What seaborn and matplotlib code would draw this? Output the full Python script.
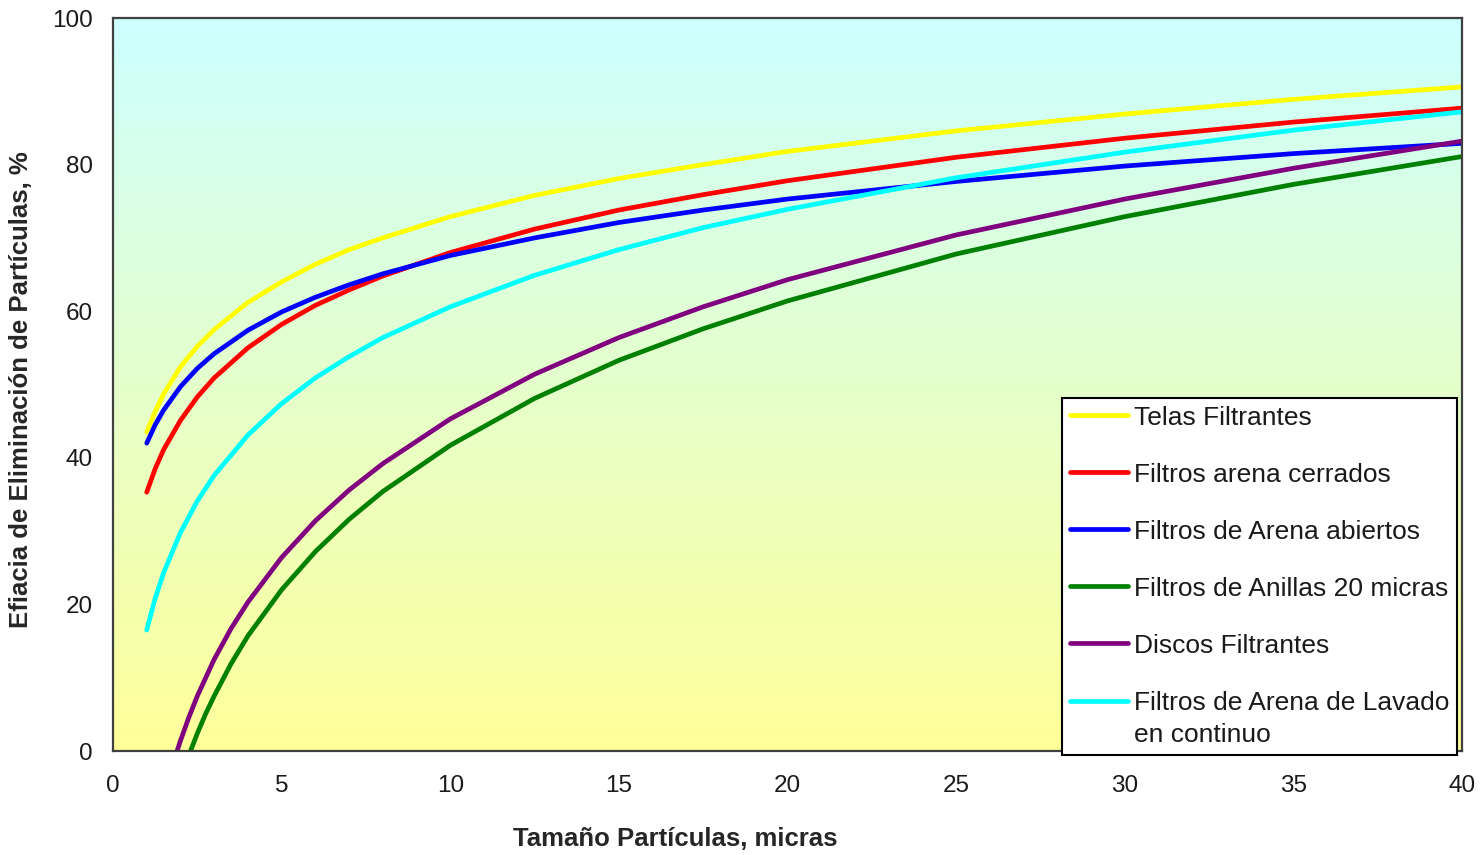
import numpy as np
import pandas as pd
import matplotlib
matplotlib.use("Agg")
import matplotlib.pyplot as plt
import seaborn as sns

# EFICACIA DE ELIMINACION DE PARTICULAS POR TIPO DE FILTRO

x_main = [1, 1.25, 1.5, 2, 2.5, 3, 4, 5, 6, 7, 8, 10, 12.5, 15, 17.5, 20, 25, 30, 35, 40]
telas = [43.5, 46.3, 48.7, 52.4, 55.2, 57.5, 61.2, 64.0, 66.4, 68.4, 70.0, 72.9, 75.8,
         78.1, 80.0, 81.8, 84.6, 86.9, 88.9, 90.6]
arena_cerrados = [35.3, 38.5, 41.1, 45.1, 48.3, 50.9, 55.0, 58.2, 60.8, 62.9, 64.8, 68.0,
                  71.2, 73.8, 75.9, 77.8, 81.0, 83.6, 85.8, 87.7]
arena_abiertos = [42.0, 44.5, 46.5, 49.7, 52.2, 54.2, 57.4, 59.9, 61.9, 63.6, 65.1, 67.6,
                  70.0, 72.1, 73.8, 75.3, 77.7, 79.8, 81.5, 82.9]
lavado_continuo = [16.5, 20.8, 24.3, 29.8, 34.1, 37.6, 43.1, 47.4, 50.9, 53.8, 56.4, 60.6,
                   64.9, 68.4, 71.4, 73.9, 78.2, 81.7, 84.7, 87.2]

x_discos = [1.9, 2, 2.25, 2.5, 3, 3.5, 4, 5, 6, 7, 8, 10, 12.5, 15, 17.5, 20, 25, 30, 35, 40]
discos = [0.0, 1.4, 4.6, 7.5, 12.5, 16.7, 20.3, 26.4, 31.4, 35.6, 39.2, 45.3, 51.4, 56.4,
          60.6, 64.3, 70.4, 75.3, 79.5, 83.2]

x_anillas = [2.3, 2.5, 2.75, 3, 3.5, 4, 5, 6, 7, 8, 10, 12.5, 15, 17.5, 20, 25, 30, 35, 40]
anillas = [0.0, 2.4, 5.1, 7.5, 11.9, 15.7, 22.0, 27.2, 31.6, 35.4, 41.7, 48.1, 53.3, 57.6,
           61.4, 67.8, 72.9, 77.3, 81.1]

series_names = ["Telas Filtrantes", "Filtros arena cerrados", "Filtros de Arena abiertos",
                "Filtros de Anillas 20 micras", "Discos Filtrantes",
                "Filtros de Arena de Lavado\nen continuo"]
series_colors = ["#FFFF00", "#FF0000", "#0000FF", "#008000", "#800080", "#00FFFF"]

x_ticks = [0, 5, 10, 15, 20, 25, 30, 35, 40]
y_ticks = [0, 20, 40, 60, 80, 100]

# DATAFRAME

series_data = [(x_main, telas), (x_main, arena_cerrados), (x_main, arena_abiertos),
               (x_anillas, anillas), (x_discos, discos), (x_main, lavado_continuo)]
frames = []
for name, (xs, ys) in zip(series_names, series_data):
    frames.append(pd.DataFrame({"x": xs, "y": ys, "serie": name}))
df = pd.concat(frames, ignore_index=True)

# ESTILO

sns.set_style("white")
plt.rcParams["font.family"] = ["Liberation Sans", "DejaVu Sans"]
plt.rcParams["text.color"] = "#1a1a1a"

fig = plt.figure(figsize=(14.82, 8.55), dpi=100)
ax = fig.add_axes([113 / 1482, 1 - 751 / 855, 1349 / 1482, 733 / 855])

# fondo degradado cian -> amarillo
top = np.array([204, 255, 255]) / 255
bottom = np.array([255, 255, 153]) / 255
t = np.linspace(0, 1, 256)[:, None]
grad = top * (1 - t) + bottom * t
ax.imshow(grad[:, None, :], extent=[0, 40, 0, 100], aspect="auto", zorder=0,
          interpolation="bilinear")

sns.lineplot(data=df, x="x", y="y", hue="serie", hue_order=series_names,
             palette=dict(zip(series_names, series_colors)), linewidth=3.4,
             errorbar=None, ax=ax, zorder=2)

ax.set_xlim(0, 40)
ax.set_ylim(0, 100)
ax.set_xticks(x_ticks)
ax.set_yticks(y_ticks)
ax.tick_params(axis="both", direction="out", length=6.5, width=1.5, color="#404040",
               labelsize=17.5, labelcolor="#1a1a1a")
ax.tick_params(axis="x", pad=11)
ax.tick_params(axis="y", pad=8)
for s in ax.spines.values():
    s.set_color("#404040")
    s.set_linewidth(1.6)
    s.set_visible(True)

ax.set_xlabel("Tamaño Partículas, micras", fontsize=18.5, fontweight="bold")
ax.set_ylabel("Efiacia de Eliminación de Partículas, %", fontsize=18.5, fontweight="bold")
ax.xaxis.set_label_coords(0.417, -0.104)
ax.yaxis.set_label_coords(-0.0593, 0.4925)

handles, labels = ax.get_legend_handles_labels()
leg = ax.legend(handles, labels, loc="lower right", bbox_to_anchor=(0.9963, -0.0055),
                borderaxespad=0, fontsize=19, frameon=True, fancybox=False,
                edgecolor="black", facecolor="white", framealpha=1,
                handlelength=2.2, handletextpad=0.2, labelspacing=1.25,
                borderpad=0.3)
leg.get_frame().set_linewidth(1.5)
leg.set_zorder(5)
for line in leg.get_lines():
    line.set_linewidth(3.4)

# ultima entrada en dos lineas: trazo alineado con la primera linea
leg.get_texts()[-1].set_linespacing(1.45)
last = leg.get_lines()[-1]
yd = last.get_ydata()
last.set_ydata([v + 13 for v in yd])

fig.savefig("out.png", dpi=100, facecolor="white")
